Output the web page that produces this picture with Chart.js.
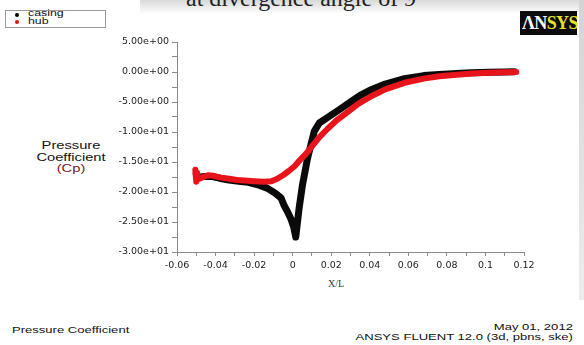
<!DOCTYPE html>
<html>
<head>
<meta charset="utf-8">
<script src="https://cdn.jsdelivr.net/npm/chart.js@4"></script>
<style>
  html, body { margin: 0; padding: 0; background: #fff; }
  #wrap { position: relative; width: 584px; height: 345px; overflow: hidden; background: #fff; }
  #chart { position: absolute; left: 0; top: 0; }
  .txt { position: absolute; font-family: "Liberation Sans", Arial, sans-serif; color: #111; white-space: nowrap; }
  .stretch { transform-origin: 0 0; transform: scaleX(1.45); }
  .stretch-r { transform-origin: 100% 0; transform: scaleX(1.45); }
</style>
</head>
<body>
<div id="wrap">
  <div style="position:absolute;left:140px;top:0;width:444px;height:14px;background:linear-gradient(to bottom,#d9d9d9,rgba(255,255,255,0));"></div>
  <div style="position:absolute;left:579px;top:0;width:5px;height:300px;background:linear-gradient(to bottom,#d4d4d4,#ececec);"></div>
  <div class="txt" style="left:186px;top:-14px;font-family:'Liberation Serif','Times New Roman',serif;font-size:24px;line-height:24px;color:#222;">at divergence angle of 9</div>

  <div style="position:absolute;left:520px;top:11px;width:57px;height:24px;background:#0c0c0c;"></div>
  <div class="txt" style="left:522px;top:13px;font-family:'Liberation Serif',serif;font-weight:bold;font-size:18px;line-height:20px;letter-spacing:-0.6px;"><span style="color:#fff;">ΛN</span><span style="color:#e6df2c;">SYS</span></div>

  <div style="position:absolute;left:5px;top:10px;width:99px;height:16px;border:1px solid #9a9a9a;"></div>
  <div style="position:absolute;left:15px;top:13px;width:4px;height:4px;border-radius:2px;background:#000;"></div>
  <div style="position:absolute;left:15px;top:20px;width:4px;height:4px;border-radius:2px;background:#e01010;"></div>
  <div class="txt stretch" style="left:28px;top:10px;font-size:8.5px;line-height:7.5px;">casing<br>hub</div>

  <div class="txt" style="left:21px;top:140px;width:100px;text-align:center;font-size:10.5px;line-height:11.7px;transform:scaleX(1.4);transform-origin:50% 0;">Pressure<br>Coefficient<br><span style="color:#7a2020;">(Cp)</span></div>

  <div class="txt" style="left:328px;top:278px;font-family:'Liberation Serif',serif;font-size:10px;color:#333;">X/L</div>

  <div class="txt stretch" style="left:12px;top:325px;font-size:9px;">Pressure Coefficient</div>
  <div class="txt stretch-r" style="right:11px;top:323px;font-size:9px;text-align:right;line-height:9.5px;">May 01, 2012<br>ANSYS FLUENT 12.0 (3d, pbns, ske)</div>

  <canvas id="chart" width="584" height="345"></canvas>
</div>
<script>
// casing surface
const casingX = [-0.0500, -0.0490, -0.0460, -0.0420, -0.0380, -0.0330, -0.0280, -0.0230, -0.0180, -0.0130,
  -0.0090, -0.0060, -0.0045, -0.0025, -0.0010, 0.0005, 0.0016, 0.0033, 0.0051, 0.0077,
  0.0112, 0.0138, 0.0180, 0.0250, 0.0300, 0.0350, 0.0410, 0.0480, 0.0580, 0.0680,
  0.0760, 0.0850, 0.0930, 0.1020, 0.1100, 0.1150];
const casingY = [-17.0, -17.6, -17.4, -17.4, -17.7, -18.0, -18.2, -18.4, -18.8, -19.4,
  -20.2, -21.0, -22.2, -23.4, -24.4, -25.8, -27.5, -22.8, -18.8, -14.4,
  -9.9, -8.5, -7.6, -6.1, -5.0, -3.9, -2.9, -2.0, -1.1, -0.6,
  -0.4, -0.25, -0.12, -0.05, 0.0, 0.05];

// hub surface
const hubX = [-0.0505, -0.0500, -0.0495, -0.0490, -0.0470, -0.0440, -0.0410, -0.0370, -0.0330, -0.0290,
  -0.0250, -0.0200, -0.0150, -0.0110, -0.0080, -0.0050, -0.0020, 0.0010, 0.0040, 0.0070,
  0.0100, 0.0140, 0.0180, 0.0230, 0.0280, 0.0340, 0.0410, 0.0480, 0.0580, 0.0680,
  0.0760, 0.0850, 0.0930, 0.1020, 0.1100, 0.1160];
const hubY = [-16.3, -18.3, -16.8, -17.9, -17.6, -17.2, -17.3, -17.6, -17.8, -18.0,
  -18.1, -18.2, -18.3, -18.2, -17.8, -17.2, -16.5, -15.7, -14.6, -13.6,
  -12.4, -10.8, -9.5, -8.0, -6.8, -5.3, -4.0, -2.9, -1.8, -1.1,
  -0.7, -0.45, -0.25, -0.12, -0.05, 0.0];

const xTickValues = [-0.06, -0.04, -0.02, 0, 0.02, 0.04, 0.06, 0.08, 0.1, 0.12];
const xTickLabels = ['-0.06', '-0.04', '-0.02', '0', '0.02', '0.04', '0.06', '0.08', '0.1', '0.12'];
const yTickValues = [5, 0, -5, -10, -15, -20, -25, -30];
const yTickLabels = ['5.00e+00', '0.00e+00', '-5.00e+00', '-1.00e+01', '-1.50e+01', '-2.00e+01', '-2.50e+01', '-3.00e+01'];

const toPoints = (xs, ys) => xs.map((x, i) => ({ x: x, y: ys[i] }));

const labelFor = (values, labels) => (v) => {
  const idx = values.findIndex(t => Math.abs(t - v) < 1e-6);
  return idx >= 0 ? labels[idx] : '';
};

const tickFont = { family: '"DejaVu Sans", sans-serif', size: 9.5 };

new Chart(document.getElementById('chart'), {
  type: 'scatter',
  data: {
    datasets: [
      {
        label: 'hub',
        data: toPoints(hubX, hubY),
        showLine: true,
        borderColor: '#e8141c',
        backgroundColor: '#e8141c',
        borderWidth: 6,
        pointRadius: 0,
        borderCapStyle: 'round',
        borderJoinStyle: 'round',
        order: 1
      },
      {
        label: 'casing',
        data: toPoints(casingX, casingY),
        showLine: true,
        borderColor: '#0a0a0a',
        backgroundColor: '#0a0a0a',
        borderWidth: 7,
        pointRadius: 0,
        borderCapStyle: 'round',
        borderJoinStyle: 'round',
        order: 2
      }
    ]
  },
  options: {
    responsive: false,
    animation: false,
    devicePixelRatio: 1,
    layout: { padding: { left: 0, right: 60, top: 42, bottom: 0 } },
    plugins: { legend: { display: false }, tooltip: { enabled: false } },
    scales: {
      x: {
        type: 'linear',
        min: -0.06,
        max: 0.12,
        afterFit: (scale) => { scale.height = 93; },
        border: { color: '#8a8a8a', width: 1 },
        grid: { drawOnChartArea: false, drawTicks: true, tickLength: 4, color: '#8a8a8a' },
        ticks: {
          stepSize: 0.01,
          autoSkip: false,
          maxRotation: 0,
          padding: 4,
          color: '#222',
          font: tickFont,
          callback: labelFor(xTickValues, xTickLabels)
        }
      },
      y: {
        type: 'linear',
        min: -30,
        max: 5,
        afterFit: (scale) => { scale.width = 177; },
        border: { color: '#8a8a8a', width: 1 },
        grid: { drawOnChartArea: false, drawTicks: true, tickLength: 5, color: '#8a8a8a' },
        ticks: {
          stepSize: 2.5,
          autoSkip: false,
          padding: 3,
          color: '#222',
          font: tickFont,
          callback: labelFor(yTickValues, yTickLabels)
        }
      }
    }
  }
});
</script>
</body>
</html>
